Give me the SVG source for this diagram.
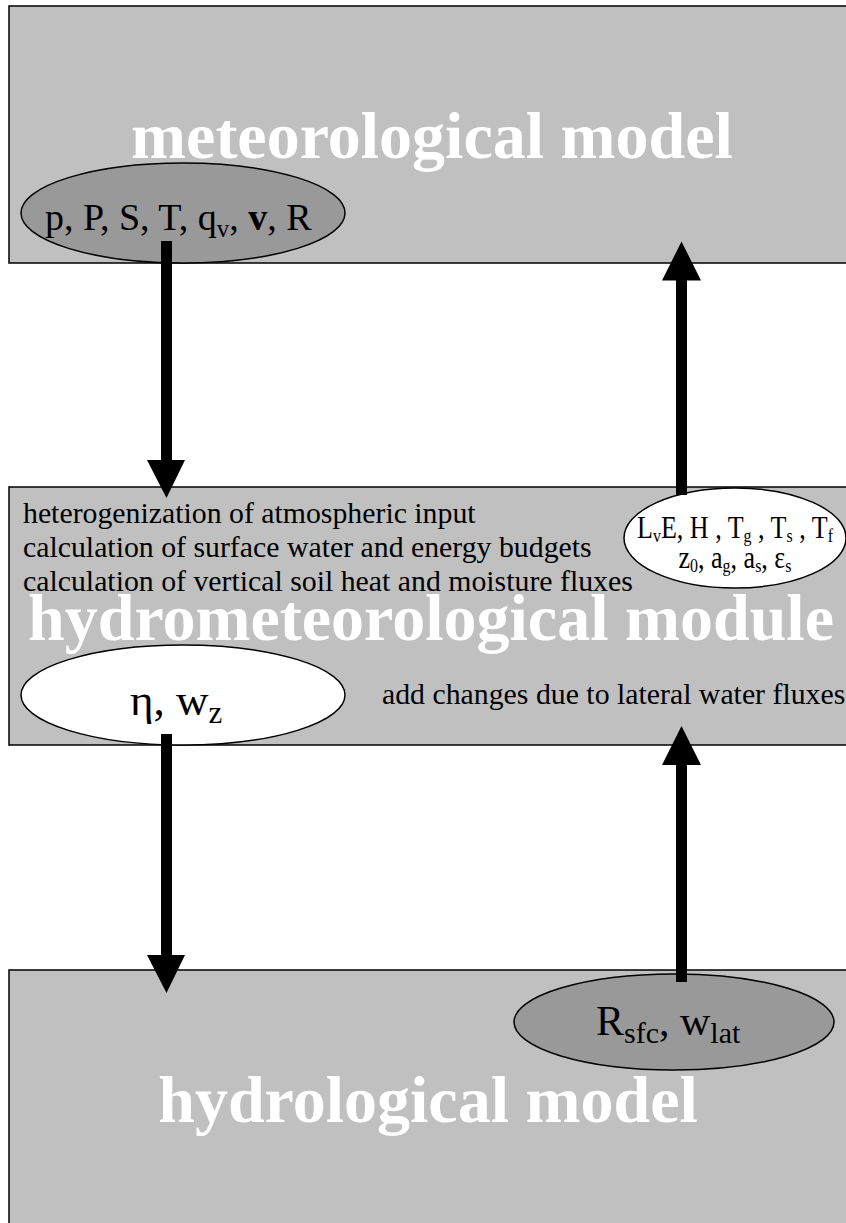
<svg xmlns="http://www.w3.org/2000/svg" width="846" height="1223" viewBox="0 0 846 1223">
<style>
.box{fill:#c0c0c0;stroke:#000;stroke-width:1.5}
.dark{fill:#999999;stroke:#000;stroke-width:1.5}
.light{fill:#ffffff;stroke:#000;stroke-width:1.5}
.title{font-family:"Liberation Serif","Times New Roman",serif;font-weight:bold;font-size:66px;fill:#fff;text-anchor:middle}
.t{font-family:"Liberation Serif","Times New Roman",serif;fill:#000}
.arrow{fill:#000;stroke:none}
</style>
<rect width="846" height="1223" fill="#fff"/>
<g id="meteorological-model">
<rect class="box" x="9" y="6" width="850" height="257"/>
<text class="title" x="432" y="158">meteorological model</text>
</g>
<g id="met-outputs">
<ellipse class="dark" cx="183" cy="213" rx="162" ry="50"/>
<text class="t" x="45" y="230" font-size="38">p, P, S, T, q<tspan font-size="25" dy="7">v</tspan><tspan dy="-7">, </tspan><tspan font-weight="bold">v</tspan>, R</text>
</g>
<g id="hydrometeorological-module">
<rect class="box" x="9" y="487" width="850" height="258"/>
<text class="t" x="23" y="523" font-size="29.8">heterogenization of atmospheric input</text>
<text class="t" x="23" y="557" font-size="29.8">calculation of surface water and energy budgets</text>
<text class="t" x="23" y="591" font-size="29.8">calculation of vertical soil heat and moisture fluxes</text>
<text class="title" x="431" y="640">hydrometeorological module</text>
<text class="t" x="382" y="704" font-size="29.8">add changes due to lateral water fluxes</text>
</g>
<g id="surface-fluxes">
<ellipse class="light" cx="735" cy="538" rx="111" ry="50"/>
<g transform="translate(735,0) scale(0.84,1)">
<text class="t" x="0" y="538" font-size="31" text-anchor="middle">L<tspan font-size="19" dy="4">v</tspan><tspan dy="-4">E, H , T</tspan><tspan font-size="19" dy="4">g</tspan><tspan dy="-4"> , T</tspan><tspan font-size="19" dy="4">s</tspan><tspan dy="-4"> , T</tspan><tspan font-size="19" dy="4">f</tspan></text>
<text class="t" x="0" y="568" font-size="31" text-anchor="middle">z<tspan font-size="19" dy="4">0</tspan><tspan dy="-4">, a</tspan><tspan font-size="19" dy="4">g</tspan><tspan dy="-4">, a</tspan><tspan font-size="19" dy="4">s</tspan><tspan dy="-4">, ε</tspan><tspan font-size="19" dy="4">s</tspan></text>
</g>
</g>
<g id="soil-moisture">
<ellipse class="light" cx="183" cy="695" rx="162" ry="50"/>
<text class="t" x="130" y="715" font-size="45">η, w<tspan font-size="31" dy="8">z</tspan></text>
</g>
<g id="hydrological-model">
<rect class="box" x="9" y="970" width="850" height="270"/>
<text class="title" x="428" y="1122">hydrological model</text>
</g>
<g id="runoff">
<ellipse class="dark" cx="674" cy="1022" rx="160" ry="48"/>
<text class="t" x="596" y="1035" font-size="42">R<tspan font-size="30" dy="8">sfc</tspan><tspan dy="-8">, w</tspan><tspan font-size="30" dy="8">lat</tspan></text>
</g>
<g id="connectors">
<polygon class="arrow" points="161,241 172,241 172,460 185,460 166.5,498 147,460 161,460"/>
<polygon class="arrow" points="676,495 687,495 687,280.5 701,280.5 681.5,241.5 662,280.5 676,280.5"/>
<polygon class="arrow" points="161,734 172,734 172,955 185,955 166.5,993 147,955 161,955"/>
<polygon class="arrow" points="676,982 687,982 687,765 701,765 681.5,726 662,765 676,765"/>
</g>
</svg>
